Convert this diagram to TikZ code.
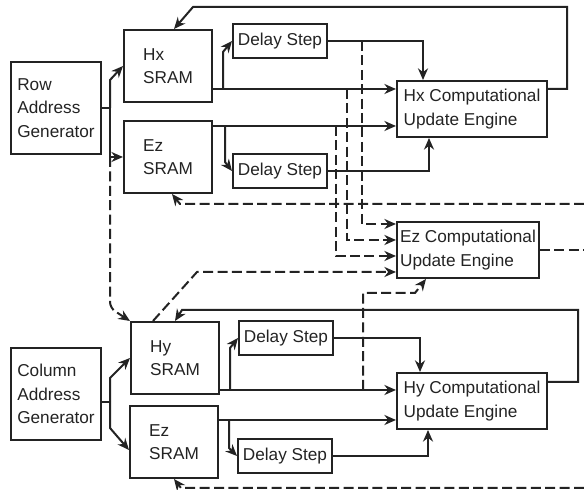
\documentclass[tikz,border=0pt]{standalone}
\usepackage{fontspec}
\setmainfont{Liberation Sans}
\usetikzlibrary{arrows.meta}
\definecolor{lnblack}{RGB}{35,35,35}

\begin{document}
\begin{tikzpicture}[x=0.5pt,y=-0.5pt,line width=1pt,lnblack,
  >={Stealth[length=5.8pt,width=5pt]},
  blk/.style={draw,rectangle,inner sep=0pt,align=left,font=\fontsize{8.6}{11.75}\selectfont},
  sram/.style={blk,minimum width=44pt,minimum height=36pt},
  delay/.style={blk,minimum width=47pt,minimum height=17pt},
  engine/.style={blk,minimum width=75pt,minimum height=28pt},
  gen/.style={blk,minimum width=45pt,minimum height=46pt},
  dsh/.style={dash pattern=on 5pt off 2.2pt}]
  \useasboundingbox (0,0) rectangle (584,490);

  \node[gen] (RG) at (56,108) {Row\\Address\\Generator};
  \node[sram] (HxS) at (168,66) {Hx\\SRAM};
  \node[sram] (EzS) at (168,157) {Ez\\SRAM};
  \node[delay] (DA) at (280,41) {Delay Step};
  \node[delay] (DB) at (280,171) {Delay Step};
  \node[engine] (HxE) at (472,109) {Hx Computational\\Update Engine};
  \node[engine,minimum width=71pt] (EzE) at (468,250) {Ez Computational\\Update Engine};
  \node[gen] (CG) at (56,394) {Column\\Address\\Generator};
  \node[sram] (HyS) at (175,358) {Hy\\SRAM};
  \node[sram] (EzT) at (174,442) {Ez\\SRAM};
  \node[delay] (DC) at (286,338) {Delay Step};
  \node[delay] (DD) at (285,456) {Delay Step};
  \node[engine] (HyE) at (472,401) {Hy Computational\\Update Engine};

  \coordinate (J1) at (110,108);
  \coordinate (J2) at (110,402);
  \coordinate (O1) at (212,89);
  \coordinate (O2) at (212,126);
  \coordinate (O3) at (219,390);
  \coordinate (O4) at (218,420);
  \coordinate (B1) at (223,89);
  \coordinate (B2) at (225,126);
  \coordinate (B3) at (230,390);
  \coordinate (B4) at (229,420);
  \coordinate (T1) at (362,41);
  \coordinate (T2) at (347,89);
  \coordinate (T3) at (336,126);
  \coordinate (T4) at (363,390);
  \coordinate (R1) at (584,204);
  \coordinate (R2) at (584,250);
  \coordinate (R3) at (584,488);

  % row side
  \draw (RG.east) -- (J1);
  \draw[->] (J1) -- ++(0,-28) -- (HxS.west);
  \draw[->] (J1) |- (EzS.west);
  \draw[dsh,->,rounded corners=3pt] (J1 |- EzS.west) -- (110,308) -- (HyS.north west);
  \draw[->] (O1) -- (O1 -| HxE.west);
  \draw[->] (B1) -- ++(0,-37) -- (DA.west);
  \draw[->] (DA.east) -| ([xshift=-24.5pt]HxE.north);
  \draw[->] (O2) -- (O2 -| HxE.west);
  \draw[->] (B2) -- ++(0,36) -- (DB.west);
  \draw[->] (DB.east) -| ([xshift=-21.5pt]HxE.south);
  \draw[->] ([yshift=10pt]HxE.east) -| (567,7) -- (193,7) -- ([xshift=3pt]HxS.north);

  % dashed taps into the Ez engine
  \draw[dsh,->] (T1) |- ([yshift=13pt]EzE.west);
  \draw[dsh,->] (T2) |- ([yshift=5pt]EzE.west);
  \draw[dsh,->] (T3) |- ([yshift=-3pt]EzE.west);
  \draw[dsh,->] ([xshift=-11pt]HyS.north) -- (197,272) -- ([yshift=-11pt]EzE.west);
  \draw[dsh,->] (T4) -- (363,293) -- (415,293) -- ([xshift=-21pt]EzE.south);
  \draw[dsh] (EzE.east) -- (R2);
  \draw[dsh,->] (R1) -- (180,204) -- ([xshift=2pt]EzS.south);
  \draw[dsh,->] (R3) -- (181,488) -- (EzT.south);

  % column side
  \draw ([yshift=-4pt]CG.east) -- (J2);
  \draw[->] (J2) -- ++(0,-24) -- (HyS.west);
  \draw[->] (J2) -- ++(0,26) -- ([yshift=-4pt]EzT.west);
  \draw[->] (O3) -- (O3 -| HyE.west);
  \draw[->] (B3) -- ++(0,-42) -- (DC.west);
  \draw[->] (DC.east) -| ([xshift=-26pt]HyE.north);
  \draw[->] (O4) -- (O4 -| HyE.west);
  \draw[->] (B4) -- ++(0,28) -- (DD.west);
  \draw[->] (DD.east) -| ([xshift=-22pt]HyE.south);
  \draw[->] ([yshift=9.5pt]HyE.east) -| (578,310) -- (182,310) -- (HyS.north);
\end{tikzpicture}
\end{document}
